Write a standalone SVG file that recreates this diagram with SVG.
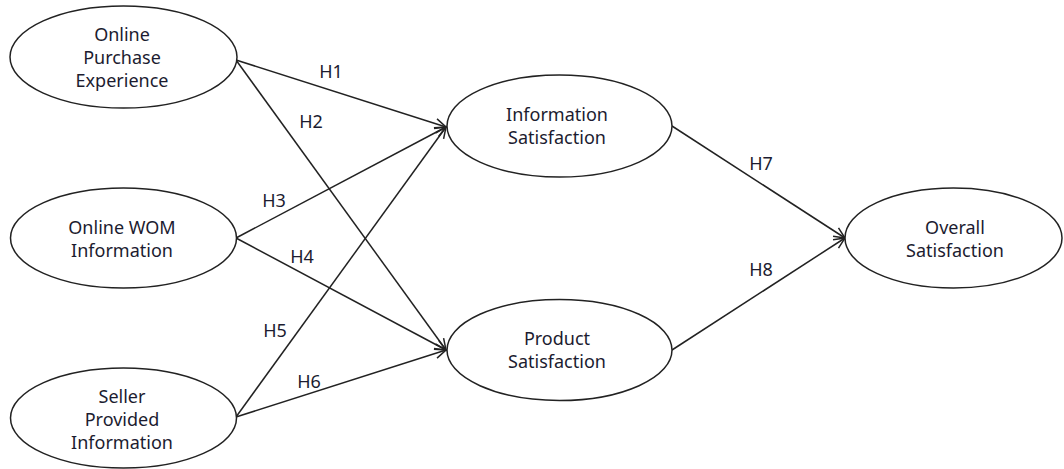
<svg xmlns="http://www.w3.org/2000/svg" width="1064" height="469" viewBox="0 0 1064 469">
<defs>
<style>
.node ellipse{fill:#fff;stroke:#222;stroke-width:1.5}
.node text{font-family:"Noto Sans","DejaVu Sans",sans-serif;font-size:18px;fill:#1c1c30;text-anchor:middle}
.edges line{stroke:#222;stroke-width:1.5;fill:none}
.lbl{font-family:"Noto Sans","DejaVu Sans",sans-serif;font-size:18px;fill:#1c1c30;text-anchor:middle}
</style>
<marker id="arr" markerUnits="userSpaceOnUse" markerWidth="14" markerHeight="14" viewBox="-12 -7 14 14" refX="0" refY="0" orient="auto">
<path d="M-11,-5 L0,0 L-11,5" fill="none" stroke="#222" stroke-width="1.5"/>
</marker>
</defs>
<rect width="1064" height="469" fill="#fff"/>
<g class="edges">
<line x1="236" y1="60" x2="446" y2="127" marker-end="url(#arr)"/>
<line x1="236" y1="60" x2="446" y2="350" marker-end="url(#arr)"/>
<line x1="236" y1="238" x2="446" y2="127" marker-end="url(#arr)"/>
<line x1="236" y1="238" x2="446" y2="350" marker-end="url(#arr)"/>
<line x1="236" y1="417" x2="446" y2="127" marker-end="url(#arr)"/>
<line x1="236" y1="417" x2="446" y2="350" marker-end="url(#arr)"/>
<line x1="672" y1="126" x2="845" y2="238" marker-end="url(#arr)"/>
<line x1="672" y1="350" x2="845" y2="238" marker-end="url(#arr)"/>
<text class="lbl" x="331" y="78">H1</text>
<text class="lbl" x="311" y="128">H2</text>
<text class="lbl" x="274" y="207">H3</text>
<text class="lbl" x="302" y="263">H4</text>
<text class="lbl" x="275" y="337">H5</text>
<text class="lbl" x="309" y="388">H6</text>
<text class="lbl" x="761" y="170">H7</text>
<text class="lbl" x="761" y="276">H8</text>
</g>
<g id="online-purchase" class="node">
<ellipse cx="123.5" cy="57" rx="113.5" ry="51"/>
<text x="122" y="41">Online</text>
<text x="122" y="64">Purchase</text>
<text x="122" y="87">Experience</text>
</g>
<g id="online-wom" class="node">
<ellipse cx="123.5" cy="238" rx="113" ry="50"/>
<text x="122" y="234">Online WOM</text>
<text x="122" y="257">Information</text>
</g>
<g id="seller-info" class="node">
<ellipse cx="123.5" cy="418" rx="113" ry="50"/>
<text x="122" y="403">Seller</text>
<text x="122" y="426">Provided</text>
<text x="122" y="449">Information</text>
</g>
<g id="info-sat" class="node">
<ellipse cx="559.5" cy="126" rx="112.5" ry="51"/>
<text x="557" y="121">Information</text>
<text x="557" y="144">Satisfaction</text>
</g>
<g id="product-sat" class="node">
<ellipse cx="559.5" cy="350" rx="112.5" ry="50.5"/>
<text x="557" y="345">Product</text>
<text x="557" y="368">Satisfaction</text>
</g>
<g id="overall-sat" class="node">
<ellipse cx="953.5" cy="238" rx="108.5" ry="50"/>
<text x="955" y="234">Overall</text>
<text x="955" y="257">Satisfaction</text>
</g>
</svg>
